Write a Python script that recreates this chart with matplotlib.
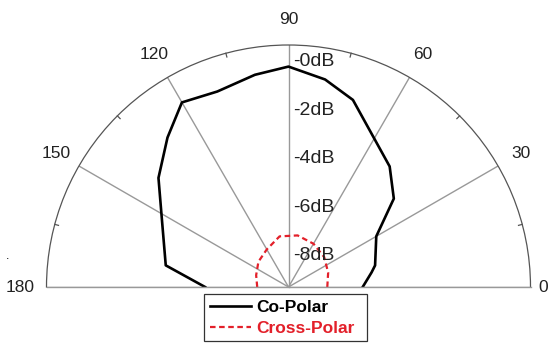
import numpy as np
import matplotlib
matplotlib.use("Agg")
import matplotlib.pyplot as plt

plt.rcParams['font.family'] = ['Liberation Sans', 'DejaVu Sans']

# measured pattern, angle in degrees, gain in dB
co_angle = [0, 10, 14, 30, 40, 50, 71, 80, 90, 99, 110, 120, 129, 140, 151, 170, 180]
co_gain = [-6.18, -5.76, -5.56, -5.06, -3.57, -2.75, -1.08, -0.55, -0.15, -0.38,
           -0.66, -0.45, -1.31, -2.24, -3.26, -4.10, -5.80]

cross_angle = [0, 20, 40, 60, 80, 100, 120, 140, 160, 180]
cross_gain = [-7.64, -7.50, -7.32, -7.18, -7.08, -7.12, -7.45, -7.62, -7.82, -7.95]

r_ticks = [0, -2, -4, -6, -8]
r_labels = ['-0dB', '-2dB', '-4dB', '-6dB', '-8dB']
theta_ticks = [0, 30, 60, 90, 120, 150, 180]
theta_minor = [15, 45, 75, 105, 135, 165]

rmin, rmax = -9.24, 0.74

fig = plt.figure(figsize=(5.51, 3.44), dpi=100)
# half disc sits in the middle of a square box, so the box runs past the figure edges
ax = fig.add_axes([46.5 / 551, 1 - 408 / 344, 484 / 551, 484 / 344], projection='polar')
ax.set_thetamin(0)
ax.set_thetamax(180)
ax.set_rlim(rmin, rmax)

l1, = ax.plot(np.deg2rad(co_angle), co_gain, color='black', lw=1.9, label='Co-Polar')
l2, = ax.plot(np.deg2rad(cross_angle), cross_gain, color='#e3202a', lw=1.6,
              ls=(0, (2.5, 1.6)), label='Cross-Polar')

# spokes only, no range rings
ax.set_xticks(np.deg2rad(theta_ticks))
ax.set_xticklabels([])
ax.xaxis.grid(True, color='#999999', lw=1.0)
ax.set_yticks([])
ax.yaxis.grid(False)
ax.tick_params(axis='x', which='major', length=0)
ax.spines['polar'].set_color('#555555')
ax.spines['polar'].set_linewidth(0.9)
for s in ['start', 'end', 'inner']:
    ax.spines[s].set_color('#999999')
    ax.spines[s].set_linewidth(1.0)

# small inward ticks on the rim between the spokes
for a in theta_minor:
    ax.plot([np.deg2rad(a)] * 2, [rmax - 0.16, rmax], color='#555555', lw=0.9, clip_on=False)

# angle labels around the rim
for t in theta_ticks:
    rr = 1.81
    if t == 0:
        rr = 1.26
    ax.text(np.deg2rad(t), rr, str(t), ha='center', va='center', fontsize=12.5,
            color='#222222', clip_on=False)

# dB labels next to the 90 degree spoke
for v, lab in zip(r_ticks, r_labels):
    ax.annotate(lab, xy=(np.pi / 2, v), xytext=(3, 1), textcoords='offset points',
                ha='left', va='center', fontsize=14, color='#222222')

fig.text(8 / 551, 1 - 262 / 344, '.', fontsize=9, ha='center', va='bottom')

leg = fig.legend(handles=[l1, l2], loc='upper left',
                 bbox_to_anchor=(204 / 551, 1 - 343 / 344, 163 / 551, 49 / 344),
                 mode='expand', borderaxespad=0, frameon=True, fancybox=False, shadow=False,
                 handlelength=2.4, handletextpad=0.3, borderpad=0.33, labelspacing=0.32,
                 prop={'weight': 'bold', 'size': 12.5})
leg.get_frame().set_edgecolor('black')
leg.get_frame().set_linewidth(0.9)
leg.get_texts()[1].set_color('#e3202a')

fig.savefig('out.png', dpi=100)
